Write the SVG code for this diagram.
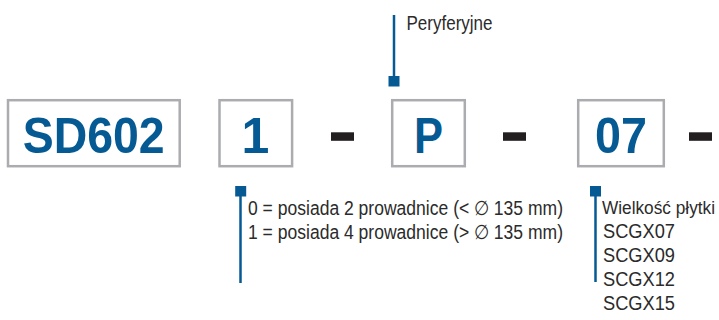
<svg xmlns="http://www.w3.org/2000/svg" width="719" height="320" viewBox="0 0 719 320">
<style>
.box{fill:#fff;stroke:#abacb0;stroke-width:2.5}
.code{font-family:"Liberation Sans",Arial,sans-serif;font-weight:bold;font-size:50px;fill:#065a94;text-anchor:middle}
.dash{fill:#231f20}
.lbl{font-family:"Liberation Sans",Arial,sans-serif;font-size:20px;fill:#2b2b2b}
.lead{stroke:#065a94;stroke-width:2.5;fill:none}
.tip{fill:#065a94}
</style>
<rect width="719" height="320" fill="#fff"/>
<g id="node-sd602">
<rect class="box" x="8" y="100.2" width="171.7" height="66"/>
<text class="code" x="93.7" y="153" textLength="142" lengthAdjust="spacingAndGlyphs">SD602</text>
</g>
<g id="node-1">
<rect class="box" x="219.5" y="100.2" width="72.6" height="66"/>
<text class="code" x="255.3" y="152.5">1</text>
</g>
<g id="dash-1"><rect class="dash" x="331" y="132.3" width="23" height="8.5"/></g>
<g id="node-p">
<rect class="box" x="392.2" y="100.2" width="72.6" height="66"/>
<text class="code" x="428.5" y="152.5" textLength="29" lengthAdjust="spacingAndGlyphs">P</text>
</g>
<g id="dash-2"><rect class="dash" x="503" y="132.3" width="23" height="8.5"/></g>
<g id="node-07">
<rect class="box" x="578.2" y="100.2" width="85.6" height="66"/>
<text class="code" x="621" y="152.5" textLength="52" lengthAdjust="spacingAndGlyphs">07</text>
</g>
<g id="dash-3"><rect class="dash" x="689" y="132.3" width="23" height="8.5"/></g>
<g id="connectors">
<line class="lead" x1="394" y1="15" x2="394" y2="78"/>
<rect class="tip" x="388.5" y="76" width="11" height="10.5"/>
<line class="lead" x1="240.5" y1="194" x2="240.5" y2="283"/>
<rect class="tip" x="235.2" y="186" width="11" height="10.5"/>
<line class="lead" x1="595.5" y1="194" x2="595.5" y2="282"/>
<rect class="tip" x="590" y="186" width="11" height="10.5"/>
</g>
<g id="label-peryferyjne">
<text class="lbl" x="406.5" y="30" textLength="86" lengthAdjust="spacingAndGlyphs">Peryferyjne</text>
</g>
<g id="label-prowadnice">
<text class="lbl" x="248" y="214.5" textLength="315" lengthAdjust="spacingAndGlyphs">0 = posiada 2 prowadnice (&lt; ∅ 135 mm)</text>
<text class="lbl" x="248" y="238.5" textLength="315" lengthAdjust="spacingAndGlyphs">1 = posiada 4 prowadnice (&gt; ∅ 135 mm)</text>
</g>
<g id="label-wielkosc">
<text class="lbl" x="602" y="214" textLength="113" lengthAdjust="spacingAndGlyphs" style="font-size:17.5px">Wielkość płytki</text>
<text class="lbl" x="603" y="238" textLength="72" lengthAdjust="spacingAndGlyphs">SCGX07</text>
<text class="lbl" x="603" y="262" textLength="72" lengthAdjust="spacingAndGlyphs">SCGX09</text>
<text class="lbl" x="603" y="286" textLength="72" lengthAdjust="spacingAndGlyphs">SCGX12</text>
<text class="lbl" x="603" y="310" textLength="72" lengthAdjust="spacingAndGlyphs">SCGX15</text>
</g>
</svg>
